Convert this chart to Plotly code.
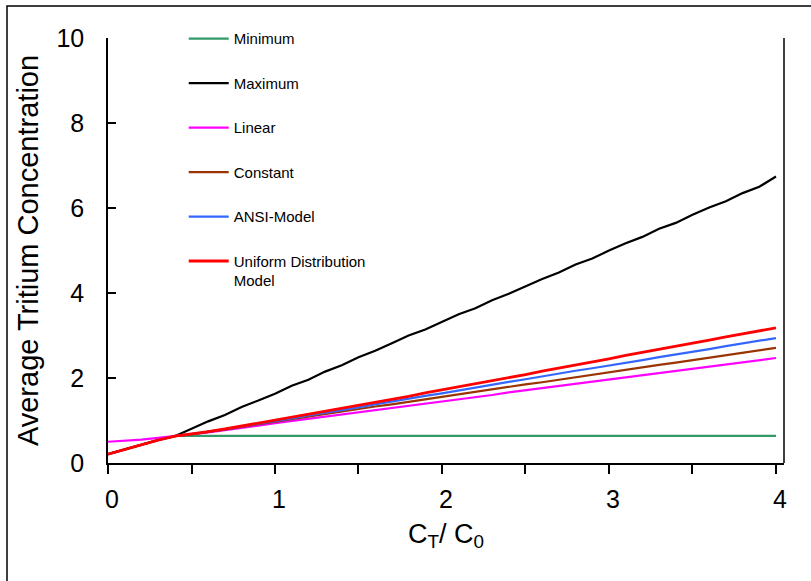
import plotly.graph_objects as go

x_vals = [0.0, 0.1, 0.2, 0.3, 0.4, 0.5, 0.6, 0.7, 0.8, 0.9,
          1.0, 1.1, 1.2, 1.3, 1.4, 1.5, 1.6, 1.7, 1.8, 1.9,
          2.0, 2.1, 2.2, 2.3, 2.4, 2.5, 2.6, 2.7, 2.8, 2.9,
          3.0, 3.1, 3.2, 3.3, 3.4, 3.5, 3.6, 3.7, 3.8, 3.9, 4.0]

minimum = [None, None, None, None, 0.64, 0.64, 0.64, 0.64, 0.64, 0.64,
           0.64, 0.64, 0.64, 0.64, 0.64, 0.64, 0.64, 0.64, 0.64, 0.64,
           0.64, 0.64, 0.64, 0.64, 0.64, 0.64, 0.64, 0.64, 0.64, 0.64,
           0.64, 0.64, 0.64, 0.64, 0.64, 0.64, 0.64, 0.64, 0.64, 0.64, 0.64]

maximum = [0.21, 0.32, 0.43, 0.54, 0.63, 0.80, 0.98, 1.13, 1.32, 1.47,
           1.63, 1.82, 1.96, 2.15, 2.30, 2.49, 2.64, 2.82, 3.00, 3.14,
           3.32, 3.50, 3.64, 3.83, 3.98, 4.16, 4.33, 4.48, 4.67, 4.81,
           5.00, 5.17, 5.32, 5.51, 5.65, 5.84, 6.01, 6.16, 6.35, 6.50, 6.74]

linear = [0.50, 0.52, 0.55, 0.59, 0.63, 0.67, 0.72, 0.77, 0.82, 0.88,
          0.94, 0.99, 1.04, 1.09, 1.14, 1.20, 1.25, 1.30, 1.35, 1.40,
          1.45, 1.50, 1.55, 1.60, 1.66, 1.71, 1.76, 1.81, 1.86, 1.91,
          1.96, 2.01, 2.06, 2.12, 2.17, 2.22, 2.27, 2.32, 2.37, 2.42, 2.47]

constant = [0.21, 0.32, 0.43, 0.54, 0.63, 0.67, 0.73, 0.79, 0.85, 0.92,
            0.98, 1.04, 1.10, 1.15, 1.21, 1.27, 1.33, 1.38, 1.44, 1.50,
            1.56, 1.61, 1.67, 1.73, 1.79, 1.85, 1.90, 1.96, 2.02, 2.08,
            2.13, 2.19, 2.25, 2.31, 2.36, 2.42, 2.48, 2.54, 2.59, 2.65, 2.71]

ansi = [0.21, 0.32, 0.43, 0.54, 0.63, 0.68, 0.73, 0.79, 0.86, 0.92,
        0.99, 1.05, 1.12, 1.18, 1.25, 1.31, 1.38, 1.45, 1.51, 1.58,
        1.64, 1.71, 1.78, 1.84, 1.91, 1.97, 2.04, 2.10, 2.17, 2.23,
        2.29, 2.36, 2.42, 2.49, 2.55, 2.62, 2.68, 2.75, 2.81, 2.88, 2.94]

uniform = [0.21, 0.32, 0.43, 0.54, 0.63, 0.68, 0.74, 0.80, 0.87, 0.93,
           1.00, 1.07, 1.14, 1.21, 1.28, 1.36, 1.43, 1.50, 1.57, 1.65,
           1.72, 1.79, 1.86, 1.94, 2.01, 2.08, 2.16, 2.23, 2.31, 2.38,
           2.45, 2.53, 2.60, 2.67, 2.74, 2.82, 2.89, 2.97, 3.04, 3.11, 3.18]

series_names = ["Minimum", "Maximum", "Linear", "Constant", "ANSI-Model",
                "Uniform Distribution<br>Model"]
series_data = [minimum, maximum, linear, constant, ansi, uniform]
series_colors = ["#339966", "#000000", "#ff00ff", "#993300", "#3366ff", "#ff0000"]
series_widths = [2.2, 2.2, 2.2, 2.2, 2.2, 2.8]

FONT = "Arial, 'Liberation Sans', sans-serif"

fig = go.Figure()
for name, data, color, w in zip(series_names, series_data, series_colors, series_widths):
    fig.add_trace(go.Scatter(x=x_vals, y=data, mode="lines", name=name,
                             legendgroup=name,
                             line=dict(color=color, width=w)))

fig.update_layout(
    width=811, height=581,
    margin=dict(l=108, r=27, t=38, b=118),
    paper_bgcolor="white", plot_bgcolor="white",
    font=dict(family=FONT, color="black"),
    showlegend=True,
    legend=dict(x=0.112, y=1.037, xanchor="left", yanchor="top",
                bgcolor="rgba(0,0,0,0)", font=dict(size=15, family=FONT),
                tracegroupgap=22, valign="top", itemwidth=40),
    xaxis=dict(range=[0, 4.048], tick0=0, dtick=1,
               ticks="outside", ticklen=9, tickwidth=1.5, tickcolor="black",
               minor=dict(dtick=0.5, ticks="outside", ticklen=9, tickwidth=1.5,
                          tickcolor="black", showgrid=False),
               showline=True, linecolor="black", linewidth=1.5,
               showgrid=False, zeroline=False,
               tickfont=dict(size=25), ticklabelstandoff=4, ticklabelshift=4,
               title=dict(text="C<sub>T</sub>/ C<sub>0</sub>", font=dict(size=27), standoff=12)),
    yaxis=dict(range=[0, 10], tick0=0, dtick=2,
               ticks="inside", ticklen=8, tickwidth=1.5, tickcolor="black",
               showline=True, linecolor="black", linewidth=1.5,
               showgrid=False, zeroline=False,
               tickfont=dict(size=25), ticklabelstandoff=17,
               title=dict(text="Average Tritium Concentration", font=dict(size=29), standoff=9)),
)

# right border of plot area
fig.add_shape(type="line", xref="paper", yref="paper", x0=1, x1=1, y0=0, y1=1,
              line=dict(color="black", width=1.5))
# outer frame
fig.add_shape(type="rect", xref="paper", yref="paper", x0=-0.1494, x1=1.3, y0=-0.5, y1=1.0753,
              line=dict(color="black", width=1.5), fillcolor="rgba(0,0,0,0)")

fig.write_html("out.html")
